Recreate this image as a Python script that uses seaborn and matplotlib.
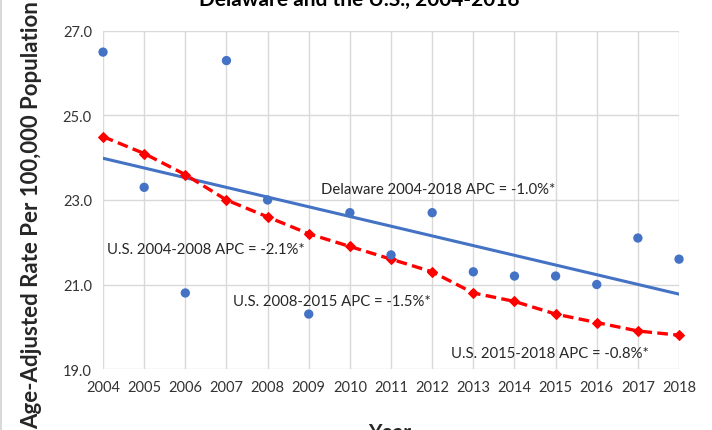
import matplotlib
matplotlib.use("Agg")
import matplotlib.pyplot as plt
import numpy as np
import pandas as pd
import seaborn as sns

years = list(range(2004, 2019))
delaware_rate = [26.5, 23.3, 20.8, 26.3, 23.0, 20.3, 22.7, 21.7, 22.7, 21.3, 21.2, 21.2, 21.0, 22.1, 21.6]
us_rate = [24.5, 24.1, 23.6, 23.0, 22.6, 22.2, 21.9, 21.6, 21.3, 20.8, 20.6, 20.3, 20.1, 19.9, 19.8]
y_ticks = [19.0, 21.0, 23.0, 25.0, 27.0]

# etiquetas de APC e onde ficam (em coordenadas de dados)
apc_labels = ["Delaware 2004-2018 APC = -1.0%*", "U.S. 2004-2008 APC = -2.1%*",
              "U.S. 2008-2015 APC = -1.5%*", "U.S. 2015-2018 APC = -0.8%*"]
apc_x = [2009.3, 2004.1, 2007.15, 2012.45]
apc_y = [23.27, 21.84, 20.61, 19.38]

df = pd.DataFrame({"Year": years, "Delaware": delaware_rate, "US": us_rate})

sns.set_style("white")
plt.rcParams["font.family"] = ["Lato", "DejaVu Sans"]

blue = "#4472C4"
red = "#FF0000"

fig = plt.figure(figsize=(7.12, 4.31), dpi=100)
ax = fig.add_axes([0.1447, 0.1415, 0.809, 0.7843])

# linha de tendencia de Delaware
sns.regplot(data=df, x="Year", y="Delaware", scatter=False, ci=None, ax=ax,
            line_kws={"color": blue, "lw": 2.2})
# pontos de Delaware
sns.scatterplot(data=df, x="Year", y="Delaware", ax=ax, color=blue, s=45,
                edgecolor="none", clip_on=False, zorder=4)
# U.S.
sns.lineplot(data=df, x="Year", y="US", ax=ax, color=red, lw=2.4, linestyle=(0, (3.2, 1.6)),
             marker="D", markersize=5.5, markeredgecolor=red, clip_on=False, zorder=3)

ax.set_xlim(2004, 2018)
ax.set_ylim(19, 27)
ax.set_xticks(years)
ax.set_yticks(y_ticks)
ax.set_yticklabels([f"{v:.1f}" for v in y_ticks])
ax.tick_params(axis="both", length=0, labelsize=10.5, colors="#333333", pad=8)
ax.grid(True, color="#D9D9D9", lw=1)
for s in ax.spines.values():
    s.set_visible(False)

ax.set_xlabel("")
ax.set_ylabel("")

for txt, x, y in zip(apc_labels, apc_x, apc_y):
    ax.text(x, y, txt, fontsize=10.7, color="#262626", va="center", ha="left")

fig.text(0.505, 1.0, "Delaware and the U.S., 2004-2018", fontsize=15, fontweight="bold",
         ha="center", va="center", color="black")
fig.text(0.548, -0.005, "Year", fontsize=15, fontweight="bold", ha="center", va="center")
fig.text(0.045, 0.5, "Age-Adjusted Rate Per 100,000 Population", fontsize=16, fontweight="bold",
         ha="center", va="center", rotation=90)

fig.patches.append(plt.Rectangle((0.002, -0.1), 0.0, 1.2, transform=fig.transFigure,
                                 edgecolor="#D9D9D9", lw=1.2, fill=False))

fig.savefig("out.png", dpi=100)
